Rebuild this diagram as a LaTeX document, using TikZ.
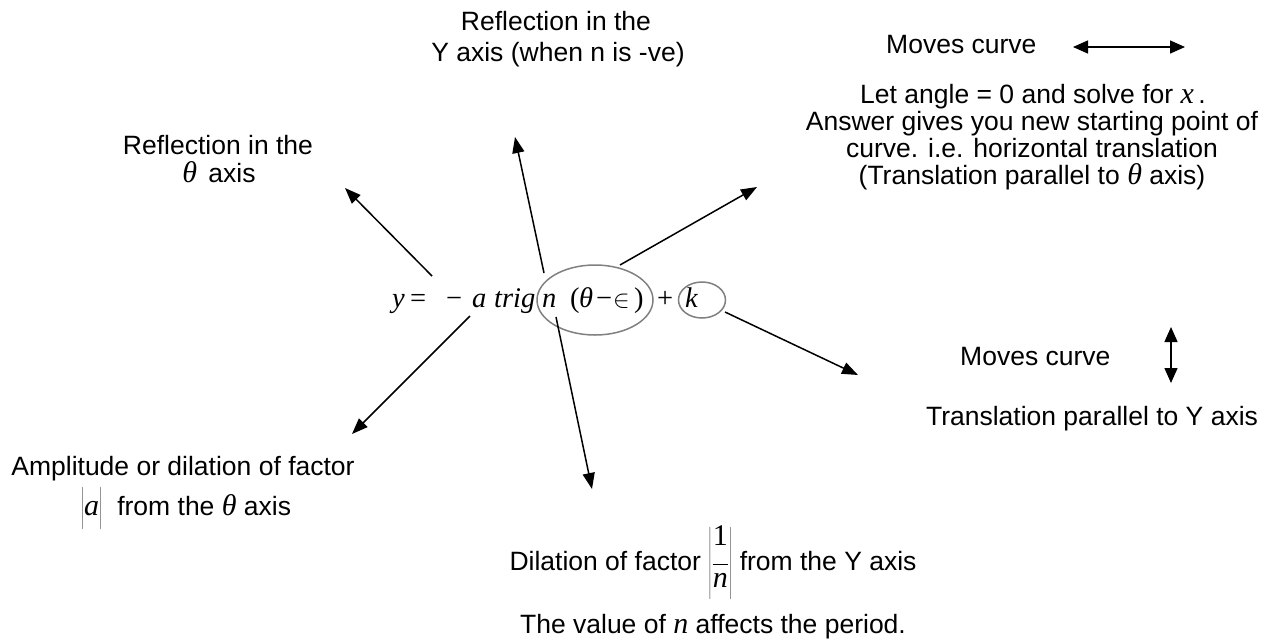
\documentclass[tikz,border=0pt]{standalone}
\usepackage{fontspec}
\setmainfont{Liberation Sans}
\newfontfamily\tnr{Liberation Serif}
\usetikzlibrary{arrows.meta,shapes.geometric}
\newcommand{\mv}[1]{{\tnr\itshape\fontsize{30}{30}\selectfont #1}}
\newcommand{\up}[1]{{\upshape #1}}
\begin{document}
\begin{tikzpicture}[x=1pt,y=-1pt,
  lbl/.style={anchor=base,inner sep=0pt,font=\fontsize{26.5}{30}\selectfont},
  arr/.style={line width=1.5pt,-{Triangle[length=16pt,width=12pt]}},
  dbl/.style={line width=1.5pt,{Triangle[length=15pt,width=13pt]}-{Triangle[length=15pt,width=13pt]}},
  ring/.style={draw=black!50,line width=1.5pt,ellipse,inner sep=0pt}]
\useasboundingbox (0,0) rectangle (1270,643);
\fill[white] (0,0) rectangle (1270,643);

% equation
\node[lbl,anchor=base west,font=\fontsize{28.5}{30}\selectfont] (eq) at (392,307) {\tnr\itshape
  \makebox[18pt][l]{y}\makebox[36pt][l]{\up{=}}\makebox[26pt][l]{\up{−}}%
  \makebox[22pt][l]{a}\makebox[48pt][l]{trig}\makebox[28pt][l]{n}%
  \makebox[9pt][l]{\up{(}}\makebox[17pt][l]{θ}\makebox[17pt][l]{\up{−}}%
  \makebox[21pt][l]{$\in$}\makebox[23pt][l]{\up{)}}\makebox[28pt][l]{\up{+}}k};
\node[ring,minimum width=116pt,minimum height=70pt] (nring) at (595,300) {};
\node[ring,minimum width=47pt,minimum height=36pt] (kring) at (702,300) {};

% top label
\node[lbl] (top1) at (556,30) {Reflection in the};
\node[lbl] (top2) at (558,61) {Y axis (when n is -ve)};

% left label
\node[lbl] (left1) at (218,154) {Reflection in the};
\node[lbl] (left2) at (219,182) {\mv{θ}\hspace{4pt} axis};

% right top
\node[lbl,anchor=base west] (mv1) at (886,53) {Moves curve};
\coordinate (h1) at (1073,47);
\coordinate (h2) at (1185,47);
\draw[dbl] (h1) -- (h2);

\node[lbl] (r1) at (1033,103) {Let angle = 0 and solve for~\mv{x}\,.};
\node[lbl] (r2) at (1032,130) {Answer gives you new starting point of};
\node[lbl] (r3) at (1032,157) {curve. i.e. horizontal translation};
\node[lbl] (r4) at (1032,184) {(Translation parallel to~\mv{θ}~axis)};

% right bottom
\node[lbl,anchor=base west] (mv2) at (960,365) {Moves curve};
\coordinate (v1) at (1171,327);
\coordinate (v2) at (1171,383);
\draw[dbl] (v1) -- (v2);
\node[lbl] (rb) at (1092,425) {Translation parallel to Y axis};

% left bottom
\node[lbl] (lb1) at (183,475) {Amplitude or dilation of factor};
\node[lbl] (lb2) at (186,515) {$\left|\rule[-13.5pt]{0pt}{40pt}\mbox{\mv{a}}\right|$~ from the~\mv{θ}~axis};

% bottom
\node[lbl] (b1) at (713,570) {Dilation of factor~$\displaystyle\left|\frac{\rule[-17pt]{0pt}{17pt}\mbox{\tnr\fontsize{30}{30}\selectfont 1}}{\mbox{\mv{n}}}\right|$~from the Y axis};
\node[lbl] (b2) at (713,633) {The value of~\mv{n}~affects the period.};

% arrows
\coordinate (s1) at (432,276); \coordinate (t1) at (345,188);
\coordinate (s2) at (544,273); \coordinate (t2) at (515,137);
\coordinate (s3) at (620,265); \coordinate (t3) at (757,187);
\coordinate (s4) at (725,312); \coordinate (t4) at (858,375);
\coordinate (s5) at (556,317); \coordinate (t5) at (592,489);
\coordinate (s6) at (470,316); \coordinate (t6) at (352,434);
\draw[arr] (s1) -- (t1);
\draw[arr] (s2) -- (t2);
\draw[arr] (s3) -- (t3);
\draw[arr] (s4) -- (t4);
\draw[arr] (s5) -- (t5);
\draw[arr] (s6) -- (t6);
\end{tikzpicture}
\end{document}
